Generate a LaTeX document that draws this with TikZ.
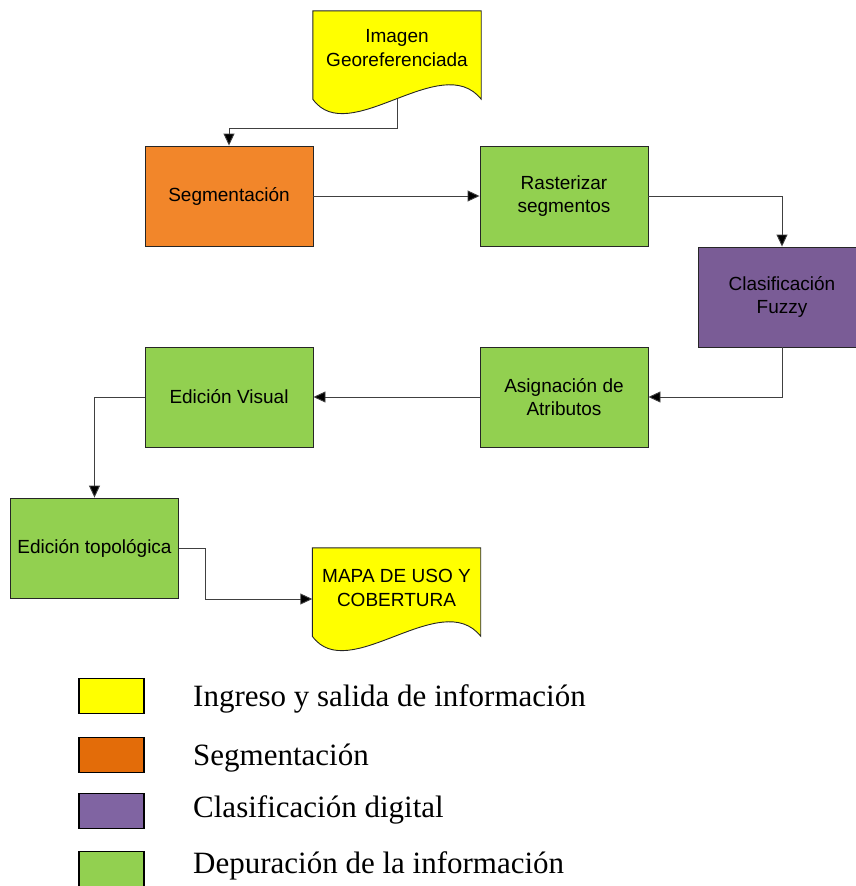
\documentclass[tikz,border=0pt]{standalone}
\usepackage{fontspec}
\setmainfont{Liberation Serif}
\newfontfamily\arialf{Liberation Sans}
\usetikzlibrary{arrows.meta,calc}
\definecolor{docyel}{HTML}{FFFF00}
\definecolor{segor}{HTML}{F2862A}
\definecolor{clpur}{HTML}{7A5C96}
\definecolor{depgr}{HTML}{92D050}
\definecolor{legor}{HTML}{E36C09}
\definecolor{legpur}{HTML}{8064A2}
\definecolor{linegray}{HTML}{404040}
\tikzset{
  procbox/.style={draw=black!85, line width=0.9pt, minimum width=168pt, minimum height=100pt,
    inner sep=0pt, align=center, font=\arialf\fontsize{19}{23.5}\selectfont},
  docnode/.style={minimum width=168pt, minimum height=88pt, inner sep=0pt, align=center,
    font=\arialf\fontsize{19}{23.5}\selectfont},
  arr/.style={draw=linegray, line width=0.9pt, -{Triangle[length=12pt,width=11pt,fill=black]}},
  legbox/.style={draw=black, line width=1.6pt, minimum width=65pt, minimum height=35pt, inner sep=0pt},
  legtext/.style={anchor=west, inner sep=0pt, font=\fontsize{31}{36}\selectfont}
}
\newcommand{\docpath}[2]{%
  \fill[#2] (#1.north west) -- (#1.north east) -- (#1.south east)
    .. controls ($(#1.south east)+(-40,-50)$) and ($(#1.south west)+(36,50)$) .. (#1.south west) -- cycle;
  \draw[black!85, line width=0.9pt] (#1.north west) -- (#1.north east) -- (#1.south east)
    .. controls ($(#1.south east)+(-40,-50)$) and ($(#1.south west)+(36,50)$) .. (#1.south west) -- cycle;
}
\begin{document}
\begin{tikzpicture}[x=1pt,y=-1pt]
\useasboundingbox (0,0) rectangle (856,886);
% documents
\node[docnode] (img) at (397,55) {};
\docpath{img}{docyel}
\node[docnode, anchor=center] (imgtxt) at (397,48) {Imagen\\Georeferenciada};
\node[docnode] (mapa) at (396.5,592) {};
\docpath{mapa}{docyel}
\node[docnode, anchor=center] (mapatxt) at (396.5,588) {MAPA DE USO Y\\COBERTURA};
% process boxes
\node[procbox, fill=segor] (seg) at (229,196) {Segmentación};
\node[procbox, fill=depgr] (ras) at (564,196) {Rasterizar\\segmentos};
\node[procbox, fill=clpur] (cla) at (782,297) {Clasificación\\Fuzzy};
\node[procbox, fill=depgr] (asi) at (564,397) {Asignación de\\Atributos};
\node[procbox, fill=depgr] (vis) at (229,397) {Edición Visual};
\node[procbox, fill=depgr] (top) at (94.5,548) {Edición topológica};
% connectors
\draw[arr] (img.south) -- ++(0,29) -| (seg.north);
\draw[arr] (seg.east) -- (ras.west);
\draw[arr] (ras.east) -| (cla.north);
\draw[arr] (cla.south) |- (asi.east);
\draw[arr] (asi.west) -- (vis.east);
\draw[arr] (vis.west) -| (top.north);
\draw[arr] (top.east) -- ++(26,0) |- ([yshift=-7pt]mapa.west);
% legend
\node[legbox, fill=docyel] (l1) at (111.5,696) {};
\node[legbox, fill=legor] (l2) at (111.5,755) {};
\node[legbox, fill=legpur] (l3) at (111.5,811) {};
\node[legbox, fill=depgr] (l4) at (111.5,869) {};
\node[legtext] (t1) at (193,699) {Ingreso y salida de información};
\node[legtext] (t2) at (193,758) {Segmentación};
\node[legtext] (t3) at (193,810) {Clasificación digital};
\node[legtext] (t4) at (193,866) {Depuración de la información};
\end{tikzpicture}
\end{document}
